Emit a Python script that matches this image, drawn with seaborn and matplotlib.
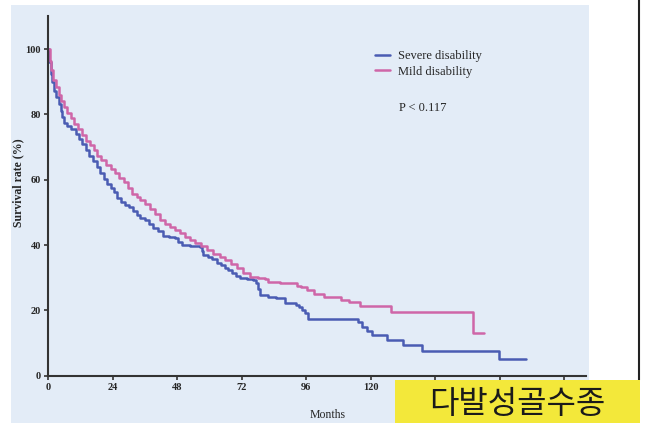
import numpy as np
import pandas as pd
import seaborn as sns
import matplotlib.pyplot as plt
from matplotlib.patches import Rectangle
from matplotlib.lines import Line2D

# Kaplan-Meier step points (months, survival %)
severe_months = [0, 0.5, 1.0, 1.6, 2.2, 3.0, 4.1, 4.7, 5.3, 6.0, 7.2, 8.5, 10.3, 11.5, 12.8,
                 14.0, 15.3, 16.8, 18.3, 19.5, 20.8, 22.1, 23.3, 24.6, 25.6, 27.0, 28.5, 30.0,
                 31.7, 33.0, 34.2, 36.0, 37.5, 39.2, 41.0, 42.9, 45.0, 47.3, 48.5, 49.7, 53.0,
                 56.6, 57.2, 57.8, 59.5, 61.0, 62.8, 64.5, 65.8, 67.1, 68.5, 70.0, 71.4, 74.0,
                 76.4, 77.5, 78.2, 78.9, 82.0, 85.0, 88.2, 92.3, 93.4, 94.4, 95.6, 96.9, 115.5,
                 116.7, 118.8, 120.7, 126.0, 132.0, 139.0, 167.8, 177.9]
severe_surv = [100, 96, 92.4, 90, 87.3, 85.5, 83.2, 81, 79.1, 77.5, 76.6, 75.5, 74, 72.5, 71,
               69.2, 67.4, 65.6, 63.9, 62, 60.2, 58.7, 57.4, 56.2, 54.5, 53.2, 52.3, 51.6,
               50.3, 49.2, 48.4, 47.6, 46.5, 45.1, 44.2, 42.8, 42.4, 42.1, 41, 40, 39.8,
               39.5, 38.3, 37, 36.3, 35.6, 34.4, 33.8, 33, 32.4, 31.5, 30.5, 29.8, 29.6,
               29.3, 28.3, 26.5, 24.7, 24.0, 23.7, 22.4, 21.6, 21.0, 20.1, 19.1, 17.5, 16.5,
               15.0, 13.8, 12.5, 10.9, 9.4, 7.7, 5.1, 5.1]

mild_months = [0, 0.6, 1.2, 2.0, 2.9, 4.0, 5.0, 6.0, 7.2, 8.4, 9.7, 11.0, 12.5, 14.0, 15.5,
               17.0, 18.3, 19.8, 21.5, 23.3, 25.0, 26.6, 28.3, 29.8, 31.4, 33.0, 34.2, 36.0,
               37.8, 39.7, 41.7, 43.5, 45.4, 47.3, 49.1, 51.0, 53.0, 54.7, 57.0, 59.0, 61.5,
               64.0, 66.0, 68.0, 70.2, 72.5, 75.2, 78.0, 80.7, 82.0, 86.3, 92.5, 94.0, 96.3,
               99.1, 102.8, 109.0, 112.1, 116.1, 127.6, 158.3, 162.2]
mild_surv = [100, 96.5, 93.5, 90.5, 88.3, 86, 84, 82.2, 80.5, 78.8, 77.1, 75.5, 73.8, 72, 70.8,
             69, 67.4, 66, 64.6, 63.3, 62, 60.6, 59.2, 57.4, 55.6, 54.6, 53.8, 52.5,
             51.2, 49.5, 47.7, 46.6, 45.6, 44.6, 43.6, 42.6, 41.6, 40.7, 39.6, 38.5, 37.4,
             36.3, 35.3, 34.1, 32.9, 31.6, 30.3, 30.0, 29.6, 28.8, 28.5, 27.5, 27.1, 26.2,
             24.9, 24.2, 23.2, 22.5, 21.4, 19.6, 13.2, 13.2]

groups = ['Severe disability', 'Mild disability']
colors = {'Severe disability': '#4a5cb3', 'Mild disability': '#cf66a8'}
x_ticks = [0, 24, 48, 72, 96, 120, 144, 168, 192]
# labels past 120 sit under the yellow caption in the reference
x_tick_labels = ['0', '24', '48', '72', '96', '120', '', '', '']
y_ticks = [0, 20, 40, 60, 80, 100]

df = pd.concat([
    pd.DataFrame({'Months': severe_months, 'Survival': severe_surv, 'group': groups[0]}),
    pd.DataFrame({'Months': mild_months, 'Survival': mild_surv, 'group': groups[1]}),
], ignore_index=True)

sns.set_theme(style='ticks')
plt.rcParams['font.family'] = ['Liberation Serif', 'DejaVu Serif']
bg = '#e3ecf7'

fig = plt.figure(figsize=(6.47, 4.23), dpi=100)
fig.patch.set_facecolor('white')
fig.add_artist(Rectangle((11 / 647, 0), 578 / 647, 1 - 5 / 423, transform=fig.transFigure,
                         facecolor=bg, edgecolor='none', zorder=-5))
ax = fig.add_axes([48 / 647, 1 - 375.7 / 423, 537.5 / 647, 359.2 / 423])
ax.set_facecolor(bg)

sns.lineplot(data=df, x='Months', y='Survival', hue='group', hue_order=groups, palette=colors,
             estimator=None, sort=False, drawstyle='steps-post', linewidth=1.8, ax=ax)

ax.set_xlim(0, 200)
ax.set_ylim(0, 110)
ax.set_xticks(x_ticks)
ax.set_xticklabels(x_tick_labels)
ax.set_yticks(y_ticks)
sns.despine(ax=ax)
for side in ['left', 'bottom']:
    ax.spines[side].set_color('#333333')
    ax.spines[side].set_linewidth(1.5)
ax.tick_params(axis='both', length=3, width=1.2, color='#333333', labelsize=7.5, pad=2)
for lbl in ax.get_xticklabels() + ax.get_yticklabels():
    lbl.set_fontweight('bold')

ax.set_xlabel('Months', fontsize=8.5)
ax.xaxis.set_label_coords((328 - 48) / 537.5, -(409 - 375.7) / 359.2)
ax.set_ylabel('Survival rate (%)', fontsize=8.5, fontweight='bold')
ax.yaxis.set_label_coords(-(48 - 24) / 537.5, (375.7 - 183) / 359.2)

ax.legend(frameon=False, loc='upper left', bbox_to_anchor=(375 / 647, 1 - 50 / 423),
          bbox_transform=fig.transFigure, fontsize=9, handlelength=1.2, handletextpad=0.6,
          borderpad=0, borderaxespad=0, labelspacing=0.3)
fig.text(399 / 647, 1 - 108 / 423, 'P < 0.117', fontsize=9, va='center')

# right border line and yellow caption box
fig.add_artist(Line2D([639 / 647, 639 / 647], [1 - 380 / 423, 1], transform=fig.transFigure,
                      color='#222222', linewidth=1.5, zorder=9))
fig.add_artist(Rectangle((395 / 647, 0), 245 / 647, 43 / 423, transform=fig.transFigure,
                         facecolor='#f3e83a', edgecolor='none', zorder=10))
fig.text(517 / 647, 1 - 404 / 423, '다발성골수종', fontsize=23, color='#1a1a1a',
         family=['Noto Sans CJK KR', 'DejaVu Sans'], ha='center', va='center', zorder=11)

fig.savefig('out.png', dpi=100)
